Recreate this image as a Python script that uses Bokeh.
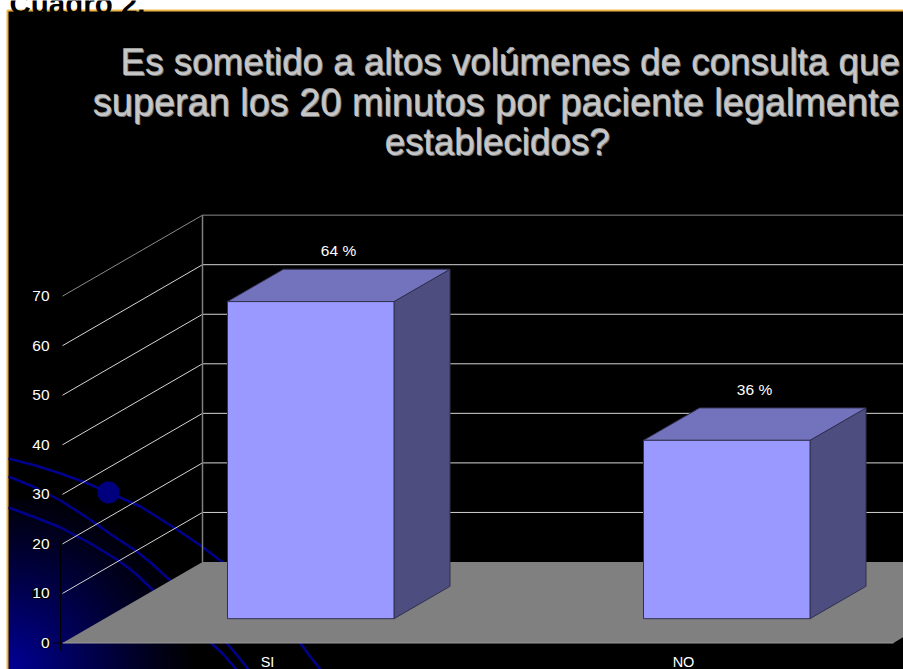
from bokeh.plotting import figure
from bokeh.models import Range1d
from bokeh.core.properties import value
from bokeh.embed import file_html
from bokeh.resources import INLINE
import numpy as np

# Chart content
caption = "Cuadro 2."
title_lines = [
    "Es sometido a altos volúmenes de consulta que",
    "superan los 20 minutos por paciente legalmente",
    "establecidos?",
]
categories = ["SI", "NO"]
percentages = [64, 36]
tick_values = [0, 10, 20, 30, 40, 50, 60, 70]

FONT = value("Liberation Sans")
W, H = 903, 669
PX_PER_UNIT = 4.955
ZERO_PX = 642.5

# Oblique projection: full depth of the chart box, in pixels
DEPTH_X, DEPTH_Y = 140, 81
BAR_DEPTH_START = 0.30
BAR_DEPTH_END = 0.70
BAR_LEFT = [227, 643]
BAR_WIDTH = 166.5

p = figure(
    width=W, height=H, output_backend="svg", toolbar_location=None,
    x_range=Range1d(0, W),
    y_range=Range1d(-(H - ZERO_PX) / PX_PER_UNIT, ZERO_PX / PX_PER_UNIT),
    min_border=0, outline_line_color=None, background_fill_color="white",
    border_fill_color="white",
)
p.extra_y_ranges = {"px": Range1d(H, 0)}
p.axis.visible = False
p.grid.visible = False


def depth_units(f):
    return f * DEPTH_Y / PX_PER_UNIT


# Panel background and its border
p.quad(left=[7], right=[W], top=[10], bottom=[H], y_range_name="px",
       fill_color="black", line_color=None)

# Blue glow from the lower left corner
GLOW_W, GLOW_H = 200, 170
gx, gy = np.meshgrid(np.arange(GLOW_W), np.arange(GLOW_H))
dist = np.hypot(gx, gy) / 190.0
strength = np.clip(1 - dist, 0, 1) ** 1.15
rgba = np.zeros((GLOW_H, GLOW_W), dtype=np.uint32)
view = rgba.view(np.uint8).reshape((GLOW_H, GLOW_W, 4))
view[..., 2] = (strength * 150).astype(np.uint8)
view[..., 3] = 255
p.image_rgba(image=[rgba], x=[8], y=[(ZERO_PX - H) / PX_PER_UNIT],
             dw=[GLOW_W], dh=[GLOW_H / PX_PER_UNIT])

p.line([7, 7, W], [H, 10, 10], y_range_name="px", line_color="#EDB544", line_width=2)

# Decorative orbits passing behind the chart
orbits_x = [
    [8, 35, 60, 85, 108, 140, 175, 200, 225],
    [8, 35, 60, 85, 112, 135, 150, 172],
    [8, 35, 60, 90, 118, 135, 155],
    [208, 222, 236],
    [224, 236, 248],
    [298, 308, 320],
]
orbits_y = [
    [458, 465, 473, 482, 492, 506, 528, 545, 564],
    [476, 487, 500, 516, 535, 550, 562, 582],
    [507, 517, 527, 543, 560, 573, 592],
    [640, 653, 669],
    [640, 654, 669],
    [640, 654, 669],
]
p.multi_line(orbits_x, orbits_y, y_range_name="px", line_color="#00008C", line_width=2.5)
p.scatter([108], [492], y_range_name="px", size=22, fill_color="#00007E", line_color=None)

# Back wall and side wall grid
x0 = 62
d = depth_units(1)
for t in tick_values[1:]:
    tone = "#8A8A8A" if t == 70 else "#D4D4D4"
    p.line([x0, x0 + DEPTH_X, W], [t, t + d, t + d], line_color=tone, line_width=1)
p.line([x0 + DEPTH_X] * 2, [0 + d, 70 + d], line_color="#808080", line_width=1.5)

# Floor
p.patch([x0, x0 + DEPTH_X, W, W, W - 10, x0], [0, d, d, 1.2, 0, 0],
        fill_color="#808080", line_color=None)
p.line([x0, W - 10], [0, 0], line_color="#9A9A9A", line_width=1)

# Left axis line and zero tick, seen only against the glow
p.line([x0 - 2, x0 - 2], [-1.5, 21], line_color="black", line_width=1)
p.line([x0 - 9, x0], [0, 0], line_color="black", line_width=1)

# Tick labels
p.text([49] * len(tick_values), tick_values, text=[str(t) for t in tick_values],
       text_font=FONT, text_font_size="15.5px", text_color="white",
       text_align="right", text_baseline="middle", background_fill_color="black")

# Bars, each drawn as three faces
OUTLINE = "#30304F"
for left, val in zip(BAR_LEFT, percentages):
    ds, de = depth_units(BAR_DEPTH_START), depth_units(BAR_DEPTH_END)
    lx = left
    rx = lx + BAR_WIDTH
    ox = (BAR_DEPTH_END - BAR_DEPTH_START) * DEPTH_X
    oy = de - ds
    p.patch([rx, rx + ox, rx + ox, rx], [ds, ds + oy, ds + oy + val, ds + val],
            fill_color="#4D4D80", line_color=OUTLINE, line_width=1)
    p.patch([lx, lx + ox, rx + ox, rx], [ds + val, ds + oy + val, ds + oy + val, ds + val],
            fill_color="#7373BD", line_color=OUTLINE, line_width=1)
    p.quad(left=[lx], right=[rx], bottom=[ds], top=[ds + val],
           fill_color="#9999FF", line_color=OUTLINE, line_width=1)
    p.text([lx + 111], [ds + val + 10.3], text=[f"{val} %"], text_font=FONT,
           text_font_size="15.5px", text_color="white", text_align="center",
           text_baseline="middle")

# Category labels
p.text([left + 40 for left in BAR_LEFT], [-3.9, -3.9], text=categories, text_font=FONT,
       text_font_size="14.5px", text_color="white", text_align="center",
       text_baseline="middle")

# Title with an embossed look; each line has its own size to fill its width
title_y = [62, 102, 142]
title_x = [510, 496, 497]
title_size = ["36.8px", "37.9px", "36.8px"]
for dx, dy, col in [(1, 1, "#7A7A7A"), (-0.6, -0.6, "#9C9C9C"), (0, 0, "#C6C6C6")]:
    p.text([x + dx for x in title_x], [y + dy for y in title_y], y_range_name="px",
           text=title_lines, text_font=FONT, text_font_size=title_size, text_color=col,
           text_align="center", text_baseline="alphabetic")

# Caption, partly cut by the top of the page
p.text([9], [3], y_range_name="px", text=[caption], text_font=FONT, text_font_size="29.5px",
       text_font_style="bold", text_color="black", text_baseline="alphabetic")

open("out.html", "w").write(file_html(p, INLINE))
